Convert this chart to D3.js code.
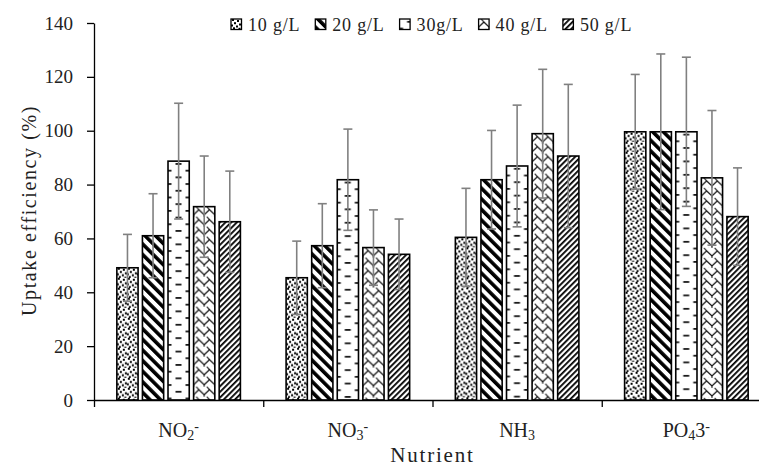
<!DOCTYPE html>
<html>
<head>
<meta charset="utf-8">
<script src="https://cdn.jsdelivr.net/npm/d3@7"></script>
<style>
  body { margin: 0; background: #fff; }
  svg { display: block; }
</style>
</head>
<body>
<svg id="chart" width="759" height="467"></svg>
<script>
// categories
const nutrients = ['NO2-', 'NO3-', 'NH3', 'PO43-']
// label pieces: [text, role]
const nutrientLabels = [
  [['NO', 'base'], ['2', 'sub'], ['-', 'sup']],
  [['NO', 'base'], ['3', 'sub'], ['-', 'sup']],
  [['NH', 'base'], ['3', 'sub']],
  [['PO', 'base'], ['4', 'sub'], ['3', 'base'], ['-', 'sup']],
]
const doses = ['10 g/L', '20 g/L', '30g/L', '40 g/L', '50 g/L']

// uptake efficiency (%) per dose, in nutrient order
const uptake10 = [49.1, 45.4, 60.4, 99.6]
const uptake20 = [61.0, 57.3, 81.8, 99.6]
const uptake30 = [88.7, 81.8, 86.9, 99.6]
const uptake40 = [71.8, 56.6, 98.9, 82.5]
const uptake50 = [66.2, 54.1, 90.6, 68.1]

// error bars (+/-)
const err10 = [12.4, 13.6, 18.2, 21.3]
const err20 = [15.6, 15.6, 18.3, 28.9]
const err30 = [21.5, 18.8, 22.6, 27.7]
const err40 = [18.8, 14.0, 23.9, 25.0]
const err50 = [18.8, 13.1, 26.6, 18.1]

const yTicks = [0, 20, 40, 60, 80, 100, 120, 140]

const uptake = [uptake10, uptake20, uptake30, uptake40, uptake50]
const errs = [err10, err20, err30, err40, err50]

const rows = []
nutrients.forEach((n, i) => {
  doses.forEach((d, j) => {
    rows.push({ nutrient: n, dose: d, di: j, value: uptake[j][i], err: errs[j][i] })
  })
})

const width = 759
const height = 467
const margin = { top: 23, right: -12, bottom: 67, left: 94 }
const font = '"Liberation Serif", "Times New Roman", serif'
const ink = '#222'

const svg = d3.select('#chart')

// patterns (black on white), drawn in each bar's local coordinates
const defs = svg.append('defs')

// confetti dots
const pDots = defs.append('pattern').attr('id', 'pat0')
  .attr('patternUnits', 'userSpaceOnUse').attr('width', 10).attr('height', 10)
pDots.append('rect').attr('width', 10).attr('height', 10).attr('fill', '#fff')
pDots.selectAll('.dot')
  .data([[1, 0], [6, 1], [3, 3.2], [8, 4.5], [0, 5.5], [5, 6.5], [2, 8.3], [7.5, 8.8]])
  .join('rect')
  .attr('x', (d) => d[0]).attr('y', (d) => d[1])
  .attr('width', 2).attr('height', 2).attr('fill', '#000')

const pWide = defs.append('pattern').attr('id', 'pat1')
  .attr('patternUnits', 'userSpaceOnUse').attr('width', 7.5).attr('height', 7.5)
  .attr('patternTransform', 'rotate(-45)')
pWide.append('rect').attr('width', 7.5).attr('height', 7.5).attr('fill', '#fff')
pWide.append('rect').attr('width', 3.6).attr('height', 7.5).attr('fill', '#000')

const pDash = defs.append('pattern').attr('id', 'pat2')
  .attr('patternUnits', 'userSpaceOnUse').attr('width', 21).attr('height', 13.4)
pDash.append('rect').attr('width', 21).attr('height', 13.4).attr('fill', '#fff')
pDash.append('rect').attr('x', 7.5).attr('y', 2).attr('width', 6).attr('height', 1.6).attr('fill', '#000')
pDash.append('rect').attr('x', 0).attr('y', 8.7).attr('width', 3.5).attr('height', 1.6).attr('fill', '#000')
pDash.append('rect').attr('x', 17.5).attr('y', 8.7).attr('width', 3.5).attr('height', 1.6).attr('fill', '#000')

const pZig = defs.append('pattern').attr('id', 'pat3')
  .attr('patternUnits', 'userSpaceOnUse').attr('width', 10.6).attr('height', 10)
pZig.append('rect').attr('width', 10.6).attr('height', 10).attr('fill', '#fff')
pZig.append('path')
  .attr('d', 'M0,8 L5.3,3 L10.6,8 M5.3,3 L2.6,0 M5.3,13 L8,10 M0,8 L0,10 M10.6,8 L10.6,10')
  .attr('fill', 'none').attr('stroke', '#000').attr('stroke-width', 1.1)

const pThin = defs.append('pattern').attr('id', 'pat4')
  .attr('patternUnits', 'userSpaceOnUse').attr('width', 4).attr('height', 4)
  .attr('patternTransform', 'rotate(45)')
pThin.append('rect').attr('width', 4).attr('height', 4).attr('fill', '#fff')
pThin.append('rect').attr('width', 1.8).attr('height', 4).attr('fill', '#000')

// scales
const x0 = d3.scaleBand()
  .domain(nutrients)
  .range([margin.left, width - margin.right])
  .paddingInner(0.27)
  .paddingOuter(0.135)

const x1 = d3.scaleBand()
  .domain(doses)
  .range([0, x0.bandwidth()])
  .paddingInner(0.17)

const y = d3.scaleLinear()
  .domain([0, 140])
  .range([height - margin.bottom, margin.top])

const xEdge = d3.scaleLinear()
  .domain([0, nutrients.length])
  .range([margin.left, width - margin.right])

// bars
const groups = svg.append('g').attr('id', 'bars')
  .selectAll('g')
  .data(nutrients)
  .join('g')
  .attr('transform', (d) => `translate(${x0(d)},0)`)

const bars = groups.selectAll('g')
  .data((n) => rows.filter((r) => r.nutrient === n))
  .join('g')
  .attr('transform', (d) => `translate(${x1(d.dose)},${y(d.value)})`)

bars.append('rect')
  .attr('width', x1.bandwidth())
  .attr('height', (d) => y(0) - y(d.value))
  .attr('fill', (d) => `url(#pat${d.di})`)
  .attr('stroke', '#000')
  .attr('stroke-width', 1.6)

// error bars
const cap = 4.5
const eb = bars.append('g')
  .attr('stroke', '#808080')
  .attr('stroke-width', 1.6)
  .attr('fill', 'none')
eb.append('line')
  .attr('x1', x1.bandwidth() / 2).attr('x2', x1.bandwidth() / 2)
  .attr('y1', (d) => y(d.value + d.err) - y(d.value))
  .attr('y2', (d) => y(d.value - d.err) - y(d.value))
eb.append('line')
  .attr('x1', x1.bandwidth() / 2 - cap).attr('x2', x1.bandwidth() / 2 + cap)
  .attr('y1', (d) => y(d.value + d.err) - y(d.value))
  .attr('y2', (d) => y(d.value + d.err) - y(d.value))
eb.append('line')
  .attr('x1', x1.bandwidth() / 2 - cap).attr('x2', x1.bandwidth() / 2 + cap)
  .attr('y1', (d) => y(d.value - d.err) - y(d.value))
  .attr('y2', (d) => y(d.value - d.err) - y(d.value))

// y axis
const yAxis = svg.append('g')
  .attr('transform', `translate(${margin.left},0)`)
  .call(d3.axisLeft(y).tickValues(yTicks).tickSize(7).tickPadding(14).tickSizeOuter(0))
yAxis.select('.domain').attr('stroke', '#000').attr('stroke-width', 1.3)
yAxis.selectAll('.tick line').attr('stroke', '#000').attr('stroke-width', 1.3)
yAxis.selectAll('text')
  .attr('font-family', font)
  .attr('font-size', 19)
  .attr('fill', ink)

// x axis: ticks at group edges, no labels
const xAxis = svg.append('g')
  .attr('transform', `translate(0,${y(0)})`)
  .call(d3.axisBottom(xEdge).tickValues(d3.range(nutrients.length + 1)).tickSize(7).tickSizeOuter(0).tickFormat(''))
xAxis.select('.domain').attr('stroke', '#000').attr('stroke-width', 1.3)
xAxis.selectAll('.tick line').attr('stroke', '#000').attr('stroke-width', 1.3)

// category labels with sub/superscripts
const cat = svg.append('g').attr('id', 'categories')
  .selectAll('text')
  .data(nutrients)
  .join('text')
  .attr('x', (d) => x0(d) + x0.bandwidth() / 2)
  .attr('y', 437)
  .attr('text-anchor', 'middle')
  .attr('font-family', font)
  .attr('font-size', 20)
  .attr('fill', ink)

cat.selectAll('tspan')
  .data((d, i) => nutrientLabels[i])
  .join('tspan')
  .attr('font-size', (d) => (d[1] === 'base' ? 20 : 14))
  .attr('baseline-shift', (d) => (d[1] === 'sub' ? '-3' : d[1] === 'sup' ? '6' : null))
  .text((d) => d[0])

// axis titles
svg.append('text')
  .attr('transform', `translate(36,${(103 + 318) / 2}) rotate(-90)`)
  .attr('text-anchor', 'middle')
  .attr('font-family', font)
  .attr('font-size', 20)
  .attr('letter-spacing', 1.6)
  .attr('fill', ink)
  .text('Uptake efficiency (%)')

svg.append('text')
  .attr('x', (margin.left + width - margin.right) / 2)
  .attr('y', 462)
  .attr('text-anchor', 'middle')
  .attr('font-family', font)
  .attr('font-size', 21)
  .attr('letter-spacing', 1.8)
  .attr('fill', ink)
  .text('Nutrient')

// legend
const legend = svg.append('g').attr('id', 'legend')
let lx = 231
doses.forEach((d, i) => {
  const item = legend.append('g').attr('transform', `translate(${lx},19)`)
  item.append('rect')
    .attr('width', 10.5).attr('height', 10.5)
    .attr('fill', `url(#pat${i})`)
    .attr('stroke', '#000').attr('stroke-width', 1.3)
  const t = item.append('text')
    .attr('x', 17)
    .attr('y', 11.5)
    .attr('font-family', font)
    .attr('font-size', 18)
    .attr('letter-spacing', 0.8)
    .attr('fill', ink)
    .text(d)
  lx += 17 + t.node().getComputedTextLength() + 15
})
</script>
</body>
</html>
